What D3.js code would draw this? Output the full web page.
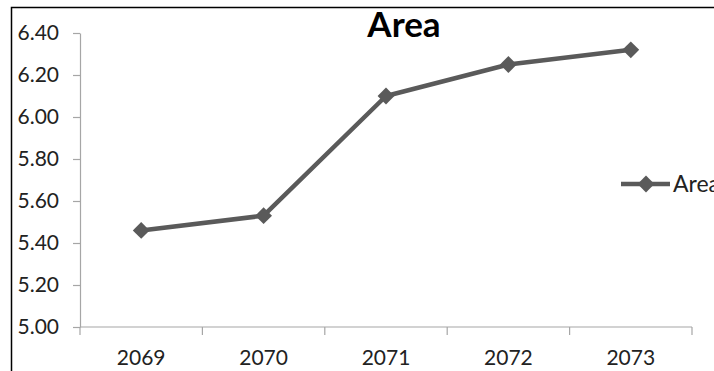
<!DOCTYPE html>
<html>
<head>
<meta charset="utf-8">
<script src="https://cdn.jsdelivr.net/npm/d3@7"></script>
<style>
  html, body { margin: 0; padding: 0; background: #fff; overflow: hidden; }
  svg { display: block; font-family: Lato, "Open Sans", sans-serif; }
</style>
</head>
<body>
<svg id="chart" width="714" height="371"></svg>
<script>
// Yearly area values
const years = ["2069", "2070", "2071", "2072", "2073"];
const areaValues = [5.46, 5.53, 6.10, 6.25, 6.32];
const yTicks = [5.00, 5.20, 5.40, 5.60, 5.80, 6.00, 6.20, 6.40];
const seriesName = "Area";
const chartTitle = "Area";

const svg = d3.select("#chart");
const lineColor = "#5a5a5a";
const axisColor = "#a6a6a6";

// Outer chart frame
svg.append("rect")
  .attr("x", 11.5).attr("y", 7.5)
  .attr("width", 800).attr("height", 500)
  .attr("fill", "none").attr("stroke", "#000").attr("stroke-width", 1.5);

const plot = { left: 80, right: 692, top: 33, bottom: 327 };

const x = d3.scaleBand().domain(years).range([plot.left, plot.right]);
const y = d3.scaleLinear().domain([5.0, 6.4]).range([plot.bottom, plot.top]);

// Y axis
const yAxis = svg.append("g")
  .attr("transform", `translate(${plot.left},0)`)
  .call(d3.axisLeft(y).tickValues(yTicks).tickFormat(d3.format(".2f")).tickSize(7).tickSizeOuter(0).tickPadding(14));
yAxis.select(".domain").attr("stroke", axisColor).attr("stroke-width", 1.2);
yAxis.selectAll(".tick line").attr("stroke", axisColor).attr("stroke-width", 1.2);
yAxis.selectAll(".tick text")
  .attr("fill", "#222").attr("font-size", 21)
  .attr("font-family", "Lato, 'Open Sans', sans-serif");

// X axis with ticks at category boundaries
const xAxisG = svg.append("g").attr("transform", `translate(0,${plot.bottom})`);
xAxisG.append("line")
  .attr("x1", plot.left).attr("x2", plot.right)
  .attr("stroke", axisColor).attr("stroke-width", 1.2);
const boundaries = years.map(d => x(d)).concat([x(years[years.length - 1]) + x.bandwidth()]);
xAxisG.selectAll("line.tick")
  .data(boundaries)
  .join("line")
  .attr("class", "tick")
  .attr("x1", d => d).attr("x2", d => d)
  .attr("y1", 0).attr("y2", 8)
  .attr("stroke", axisColor).attr("stroke-width", 1.2);
xAxisG.selectAll("text")
  .data(years)
  .join("text")
  .attr("x", d => x(d) + x.bandwidth() / 2)
  .attr("y", 38)
  .attr("text-anchor", "middle")
  .attr("fill", "#222").attr("font-size", 21)
  .text(d => d);

// Line series
const pts = years.map((yr, i) => ({ yr, v: areaValues[i] }));
const line = d3.line()
  .x(d => x(d.yr) + x.bandwidth() / 2)
  .y(d => y(d.v));
svg.append("path")
  .datum(pts)
  .attr("d", line)
  .attr("fill", "none")
  .attr("stroke", lineColor)
  .attr("stroke-width", 4.5)
  .attr("stroke-linejoin", "round");

const diamond = d3.symbol().type(d3.symbolDiamond2).size(180);
svg.selectAll("path.marker")
  .data(pts)
  .join("path")
  .attr("class", "marker")
  .attr("d", diamond)
  .attr("transform", d => `translate(${x(d.yr) + x.bandwidth() / 2},${y(d.v)})`)
  .attr("fill", lineColor);

// Title
svg.append("text")
  .attr("x", 404).attr("y", 37)
  .attr("text-anchor", "middle")
  .attr("font-size", 35).attr("font-weight", "bold")
  .attr("fill", "#000")
  .text(chartTitle);

// Legend
const lg = svg.append("g").attr("transform", "translate(621,184)");
lg.append("line")
  .attr("x1", 0).attr("x2", 49)
  .attr("stroke", lineColor).attr("stroke-width", 4.5);
lg.append("path")
  .attr("d", diamond)
  .attr("transform", "translate(25,0)")
  .attr("fill", lineColor);
lg.append("text")
  .attr("x", 52).attr("y", 8)
  .attr("font-size", 23).attr("fill", "#222")
  .text(seriesName);
</script>
</body>
</html>
